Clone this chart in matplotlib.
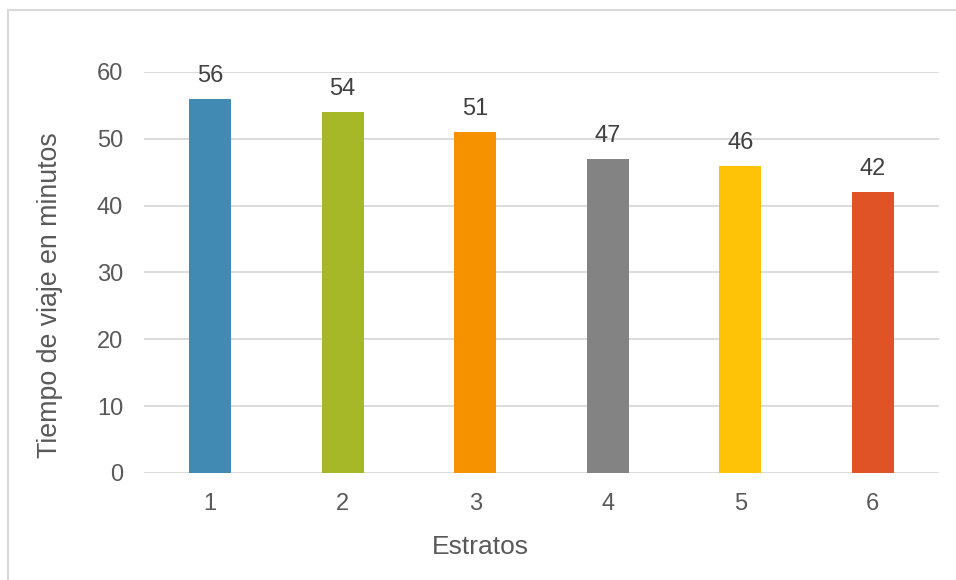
import matplotlib
matplotlib.use("Agg")
import matplotlib.pyplot as plt
from matplotlib.patches import Rectangle

# Tiempo medio de viaje por estrato
estratos = ["1", "2", "3", "4", "5", "6"]
minutos = [56, 54, 51, 47, 46, 42]
colores = ["#418AB3", "#A6B727", "#F69200", "#838383", "#FEC306", "#DF5327"]

plt.rcParams["font.family"] = ["Liberation Sans", "DejaVu Sans"]
texto = "#595959"

fig = plt.figure(figsize=(9.56, 5.8), dpi=100)
ax = fig.add_axes([0.1506, 0.1845, 0.8316, 0.6914])

x = range(len(estratos))
barras = ax.bar(x, minutos, width=0.32, color=colores, zorder=3)
for xi, v in zip(x, minutos):
    ax.annotate(str(v), (xi, v), xytext=(0, 8.5), textcoords="offset points",
                ha="center", va="bottom", fontsize=17, color="#404040")

ax.set_xlim(-0.5, len(estratos) - 0.5)
ax.set_ylim(0, 60)
ax.set_yticks(range(0, 61, 10))
ax.set_xticks(list(x))
ax.set_xticklabels(estratos)
ax.grid(axis="y", color="#D9D9D9", linewidth=1.3, zorder=0)
for s in ax.spines.values():
    s.set_visible(False)
ax.tick_params(length=0, labelsize=17, labelcolor=texto)
ax.tick_params(axis="y", pad=15)
ax.tick_params(axis="x", pad=14.5)

ax.set_xlabel("Estratos", fontsize=19, color=texto)
ax.set_ylabel("Tiempo de viaje en minutos", fontsize=19.3, color=texto)
ax.xaxis.set_label_coords(0.423, -0.155)
ax.yaxis.set_label_coords(-0.102, 0.443)

# marco del gráfico
fig.patches.append(Rectangle((8 / 956, -0.05), 1.2, 1 - 10 / 580 + 0.05,
                             transform=fig.transFigure, fill=False,
                             edgecolor="#D9D9D9", linewidth=1.5))

fig.savefig("out.png", dpi=100)
